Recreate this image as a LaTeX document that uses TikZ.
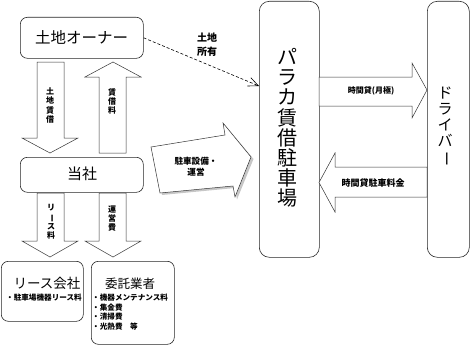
\documentclass[tikz,border=0pt]{standalone}
\usepackage{fontspec}
\setmainfont{Noto Sans CJK JP}
\usetikzlibrary{arrows.meta}
\tikzset{
  box/.style={draw=black!85, line width=0.6pt, rounded corners=7pt, inner sep=0pt, anchor=north west},
  blk/.style={draw=black!80, line width=0.5pt, fill=white},
  lbl/.style={font=\bfseries\fontsize{8}{9}\selectfont, align=center, inner sep=0pt},
  vlbl/.style={font=\bfseries\fontsize{8}{9.3}\selectfont, align=center, inner sep=0pt},
  title/.style={inner sep=0pt, align=center},
}
\newcommand{\vbar}{\rotatebox[origin=c]{-90}{ー}}
\begin{document}
\begin{tikzpicture}[x=1pt,y=-1pt]
\useasboundingbox (0,0) rectangle (470,345);
% boxes
\node[box, minimum width=123pt, minimum height=41pt] (owner) at (20,17) {};
\node[box, minimum width=123pt, minimum height=35pt] (tosha) at (20,157) {};
\node[box, minimum width=82pt, minimum height=60pt] (lease) at (1,261) {};
\node[box, minimum width=83pt, minimum height=83pt] (itaku) at (91,261) {};
\node[box, rounded corners=10pt, minimum width=60pt, minimum height=256pt] (paraka) at (259,1) {};
\node[box, rounded corners=10pt, minimum width=42pt, minimum height=256pt] (driver) at (427,1) {};
% box texts
\node[title, font=\fontsize{15.5}{16}\selectfont] (ownert) at (81.5,37.5) {土地オーナー};
\node[title, font=\fontsize{15}{16}\selectfont] (tosht) at (82,174) {当社};
\node[title, font=\fontsize{13.5}{14}\selectfont] (leaset) at (47,283) {リース会社};
\node[lbl, font=\bfseries\fontsize{7.6}{9}\selectfont] (leasesub) at (44,298) {・駐車場機器リース料};
\node[title, font=\fontsize{12.5}{14}\selectfont] (itakut) at (130,284) {委託業者};
\node[lbl, font=\bfseries\fontsize{7.6}{9.5}\selectfont, align=left, anchor=north west] (itakusub) at (92,294)
  {・機器メンテナンス料\\・集金費\\・清掃費\\・光熱費　等};
\node[title, font=\fontsize{20}{20.2}\selectfont] (parakat) at (287,128)
  {パ\\ラ\\カ\\賃\\借\\駐\\車\\場};
\node[title, font=\fontsize{15}{16}\selectfont] (drivert) at (445,127)
  {ド\\ラ\\イ\\バ\\\vbar};
% block arrows
\draw[blk] (37,62) -- (64,62) -- (64,138) -- (78,138) -- (50,153) -- (22,138) -- (37,138) -- cycle;
\draw[blk] (99,153) -- (126,153) -- (126,77) -- (141,77) -- (113,62) -- (85,77) -- (99,77) -- cycle;
\draw[blk] (37,193) -- (64,193) -- (64,241) -- (78,241) -- (50,257) -- (22,241) -- (37,241) -- cycle;
\draw[blk] (99,193) -- (126,193) -- (126,241) -- (141,241) -- (113,257) -- (85,241) -- (99,241) -- cycle;
% skewed arrow with shadow
\fill[black!22] (153,149) -- (227,137) -- (225,125) -- (253.5,159) -- (237,199.5) -- (235,188) -- (162,195) -- cycle;
\draw[blk] (151,147) -- (225,135) -- (223,123) -- (251,157) -- (235,197) -- (233,186) -- (160,193) -- cycle;
% horizontal arrows
\draw[blk] (319,77) -- (412,77) -- (412,63) -- (427,90) -- (412,118) -- (412,106) -- (319,106) -- cycle;
\draw[blk] (427,167) -- (335,167) -- (335,153) -- (319,182.5) -- (335,212) -- (335,197) -- (427,197) -- cycle;
% arrow labels
\node[vlbl] (l1) at (50,105.5) {土\\地\\賃\\借};
\node[vlbl] (l2) at (112,101.5) {賃\\借\\料};
\node[vlbl] (l3) at (51,222) {リ\\\vbar\\ス\\料};
\node[vlbl] (l4) at (112,218.5) {運\\営\\費};
\node[lbl, font=\bfseries\fontsize{8.6}{11}\selectfont] (l5) at (196,166.5) {駐車設備・\\運営};
\node[lbl, font=\bfseries\fontsize{8}{9}\selectfont] (l6) at (371,91) {時間貸(月極)};
\node[lbl, font=\bfseries\fontsize{9}{9}\selectfont] (l7) at (373,183) {時間貸駐車料金};
\node[lbl, font=\bfseries\fontsize{10}{14}\selectfont] (l8) at (207,45) {土地\\所有};
% dashed connector
\coordinate (dend) at (259,86);
\draw[densely dashed, line width=0.6pt, -{Straight Barb[length=10pt,width=9pt]}] (owner.east) -- (dend);
\end{tikzpicture}
\end{document}
